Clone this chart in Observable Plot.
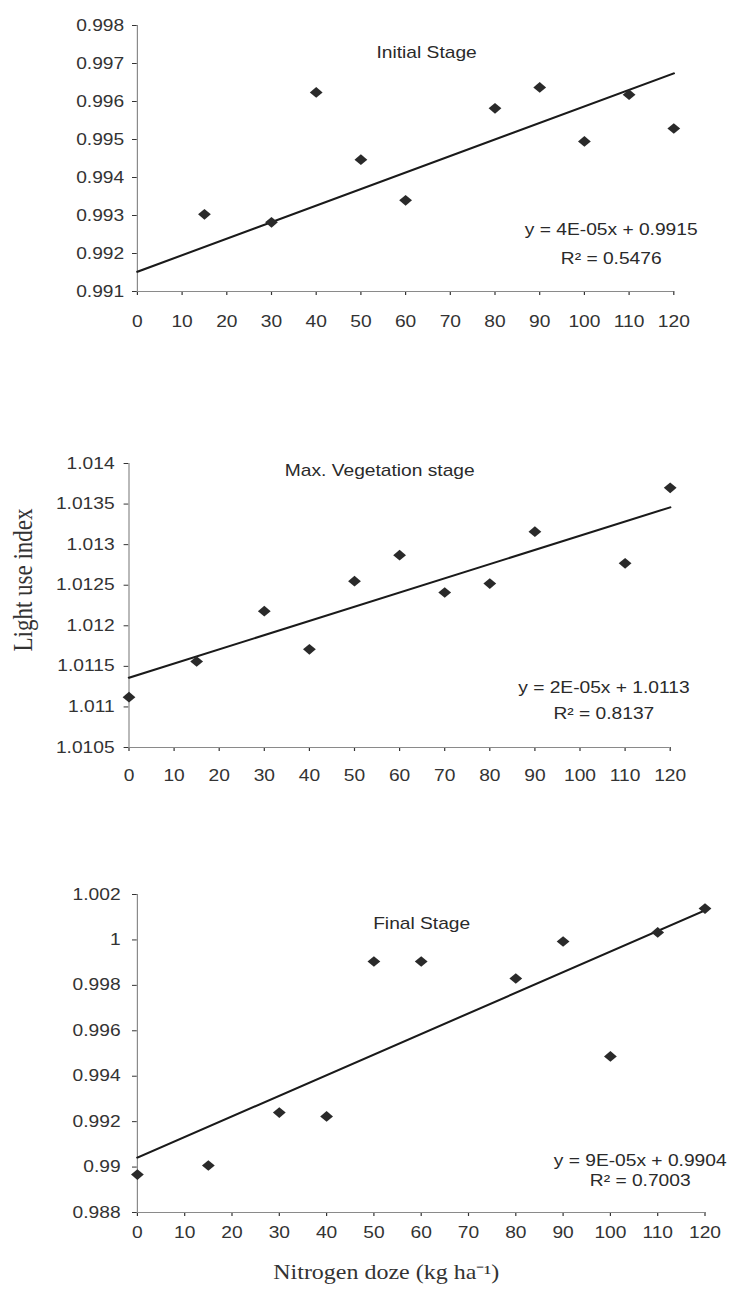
<!DOCTYPE html>
<html><head><meta charset="utf-8">
<script src="https://cdn.jsdelivr.net/npm/d3@7"></script>
<script src="https://cdn.jsdelivr.net/npm/@observablehq/plot@0.6"></script>
<style>
body{margin:0;background:#fff;}
#wrap{position:relative;width:732px;height:1294px;overflow:hidden;background:#fff;}
.panel{position:absolute;left:0;transform-origin:0 0;transform:scaleX(1.2);}
</style></head><body><div id="wrap"></div>
<script>
// ---- data ----
const xTicks = [0,10,20,30,40,50,60,70,80,90,100,110,120];

const initialX = [15,30,40,50,60,80,90,100,110,120];
const initialY = [0.99303,0.99282,0.99624,0.99447,0.99340,0.99582,0.99637,0.99495,0.99618,0.99529];
const initialTrend = [0.99152,0.99674];
const initialTicks = [0.991,0.992,0.993,0.994,0.995,0.996,0.997,0.998];
const initialLabels = [{x:64.7,y:0.99729,t:"Initial Stage"},{x:106,y:0.99261,t:"y = 4E-05x + 0.9915"},{x:106,y:0.99187,t:"R² = 0.5476"}];

const maxVegX = [0,15,30,40,50,60,70,80,90,110,120];
const maxVegY = [1.01112,1.01156,1.01218,1.01171,1.01255,1.01287,1.01241,1.01252,1.01316,1.01277,1.0137];
const maxVegTrend = [1.01136,1.01346];
const maxVegTicks = [1.0105,1.011,1.0115,1.012,1.0125,1.013,1.0135,1.014];
const maxVegLabels = [{x:55.6,y:1.01391,t:"Max. Vegetation stage"},{x:105.3,y:1.01124,t:"y = 2E-05x + 1.0113"},{x:105.3,y:1.01092,t:"R² = 0.8137"}];

const finalX = [0,15,30,40,50,60,80,90,100,110,120];
const finalY = [0.98967,0.99007,0.99240,0.99223,0.99905,0.99905,0.9983,0.99993,0.99487,1.00033,1.00138];
const finalTrend = [0.99042,1.0013];
const finalTicks = [0.988,0.99,0.992,0.994,0.996,0.998,1,1.002];
const finalLabels = [{x:60.1,y:1.00072,t:"Final Stage"},{x:106.3,y:0.99029,t:"y = 9E-05x + 0.9904"},{x:106.3,y:0.98941,t:"R² = 0.7003"}];

const trendX = [0,120];
const yTitle = ["Light use index"];
const xTitle = [{x:52.6,t:"Nitrogen doze (kg ha\u207B\u00B9)"}];

// ---- drawing ----
const wrap = document.getElementById("wrap");
const SANS = "'Liberation Sans', Arial, sans-serif";
const SERIF = "'Liberation Serif', 'Times New Roman', serif";

function panel(o){
  const pts = o.xs.map((x,i)=>({x, y:o.ys[i]}));
  const trend = trendX.map((x,i)=>({x, y:o.trend[i]}));
  const ymin = o.ticks[0], ymax = o.ticks[o.ticks.length-1];
  const marks = [
    Plot.ruleY([ymin], {stroke:"#8a8a8a", strokeWidth:1}),
    Plot.ruleX([0], {y1:ymin, y2:ymax, stroke:"#8a8a8a", strokeWidth:1}),
    Plot.line(trend, {x:"x", y:"y", stroke:"#1a1a1a", strokeWidth:2}),
    Plot.dot(pts, {x:"x", y:"y", symbol:"diamond2", r:4.8, fill:"#2a2a2a", stroke:"none"}),
    Plot.text(o.labels, {x:"x", y:"y", text:"t", textAnchor:"middle", fontSize:16, fill:"#2a2a2a", fontFamily:SANS})
  ].concat(o.extra || []);
  const svg = Plot.plot({
    width:610, height:o.height,
    marginLeft:o.ml, marginRight:o.mr, marginTop:o.mt, marginBottom:o.mb,
    style:{fontFamily:SANS, fontSize:"16px", color:"#333", background:"transparent", overflow:"visible"},
    x:{domain:[0,120], ticks:xTicks, tickSize:4, tickPadding:o.xpad, label:null, tickFormat:d=>String(d)},
    y:{domain:[ymin,ymax], ticks:o.ticks, tickSize:4, tickPadding:o.ypad, label:null, tickFormat:d=>String(+d.toFixed(4))},
    marks
  });
  const div = document.createElement("div");
  div.className = "panel";
  div.style.top = o.top + "px";
  div.appendChild(svg);
  wrap.appendChild(div);
}

panel({xs:initialX, ys:initialY, trend:initialTrend, ticks:initialTicks, labels:initialLabels,
  top:0, height:340, ml:114, mr:49, mt:25, mb:49, xpad:20, ypad:7});

panel({xs:maxVegX, ys:maxVegY, trend:maxVegTrend, ticks:maxVegTicks, labels:maxVegLabels,
  top:420, height:380, ml:107, mr:52, mt:43, mb:53, xpad:18, ypad:8,
  extra:[Plot.text(yTitle, {text:d=>d, frameAnchor:"left", dx:-88, dy:46, rotate:-90, fontFamily:SERIF, fontSize:23, fill:"#333"})]});

panel({xs:finalX, ys:finalY, trend:finalTrend, ticks:finalTicks, labels:finalLabels,
  top:870, height:424, ml:114, mr:23, mt:24, mb:82, xpad:10, ypad:10,
  extra:[Plot.text(xTitle, {x:"x", text:"t", frameAnchor:"bottom", dy:66, fontFamily:SERIF, fontSize:20, fill:"#333"})]});
</script></body></html>
